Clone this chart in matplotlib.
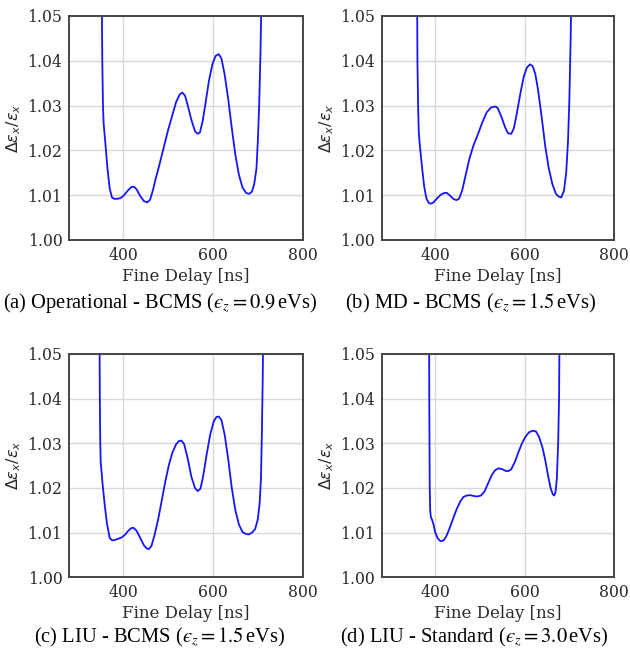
import matplotlib
matplotlib.use("Agg")
import matplotlib.pyplot as plt

# ---------------- data ----------------
delay_a = [349, 352, 353.5, 355, 356.5, 360, 365, 370, 375, 380, 388, 395, 402, 410, 418, 424,
           430, 438, 446, 454, 460, 466, 472, 480, 490, 500, 510, 518, 526, 532, 538, 544,
           552, 560, 566, 571, 577, 583, 591, 599, 606, 613, 619, 626, 634, 642, 650, 658,
           666, 674, 681, 687, 692, 697, 700, 703, 706, 709, 711]
value_a = [1.12, 1.06, 1.04, 1.03, 1.026, 1.022, 1.016, 1.0115, 1.0095, 1.0092, 1.0092, 1.0094,
           1.0100, 1.0110, 1.0118, 1.0119, 1.0113, 1.0098, 1.0087, 1.0084, 1.0090, 1.0110,
           1.0135, 1.0165, 1.0205, 1.0245, 1.0280, 1.0308, 1.0325, 1.0329, 1.0322, 1.0300,
           1.0268, 1.0243, 1.0237, 1.0240, 1.0265, 1.0302, 1.0355, 1.0393, 1.0411, 1.0415,
           1.0405, 1.0370, 1.0315, 1.0250, 1.0190, 1.0145, 1.0117, 1.0105, 1.0103, 1.0108,
           1.0125, 1.0160, 1.022, 1.030, 1.042, 1.06, 1.10]

delay_b = [357, 359, 360, 361.5, 363, 365, 370, 375, 380, 385, 390, 396, 404, 412, 420, 426,
           432, 440, 447, 453, 460, 468, 476, 485, 495, 505, 515, 525, 535, 540, 548, 556,
           563, 570, 576, 582, 590, 598, 605, 612, 618, 624, 630, 638, 646, 654, 662, 670,
           676, 682, 688, 693, 697, 700, 703, 705, 707]
value_b = [1.12, 1.06, 1.04, 1.03, 1.024, 1.0215, 1.0165, 1.012, 1.0093, 1.0083, 1.0081,
           1.0084, 1.0093, 1.0101, 1.0105, 1.0105, 1.0100, 1.0092, 1.0089, 1.0092, 1.0110,
           1.0145, 1.0180, 1.0210, 1.0235, 1.0262, 1.0285, 1.0296, 1.0298, 1.0294, 1.0275,
           1.0252, 1.0238, 1.0237, 1.0250, 1.0280, 1.0325, 1.0365, 1.0385, 1.0392, 1.0388,
           1.0370, 1.0335, 1.0275, 1.0210, 1.0160, 1.0125, 1.0103, 1.0097, 1.0095, 1.0110,
           1.0150, 1.022, 1.031, 1.045, 1.06, 1.10]

delay_c = [345, 347, 348, 349, 350, 354, 359, 364, 370, 375, 380, 388, 396, 404, 412, 418,
           423, 430, 438, 446, 452, 457, 463, 470, 478, 486, 494, 502, 510, 518, 524, 530,
           536, 544, 552, 560, 566, 572, 578, 586, 594, 602, 608, 613, 619, 626, 634, 642,
           650, 658, 666, 674, 680, 687, 694, 700, 704, 707, 709, 711, 712.5, 714]
value_c = [1.12, 1.06, 1.04, 1.03, 1.0258, 1.021, 1.0161, 1.0120, 1.0088, 1.0083, 1.0083,
           1.0086, 1.0089, 1.0095, 1.0105, 1.0110, 1.0111, 1.0104, 1.0088, 1.0072, 1.0065,
           1.0063, 1.0070, 1.0095, 1.0130, 1.0172, 1.0215, 1.0252, 1.0280, 1.0298, 1.0305,
           1.0306, 1.0298, 1.0265, 1.0225, 1.0200, 1.0193, 1.0198, 1.0225, 1.0275, 1.0320,
           1.0350, 1.0359, 1.0360, 1.0352, 1.0320, 1.0265, 1.0200, 1.0150, 1.0118, 1.0101,
           1.0097, 1.0096, 1.0100, 1.0108, 1.0130, 1.0165, 1.022, 1.032, 1.045, 1.06, 1.10]

delay_d = [384, 386, 386.5, 387, 387.5, 388.5, 390, 393, 396, 400, 405, 410, 415, 420, 426,
           432, 440, 448, 456, 463, 470, 478, 486, 494, 502, 510, 518, 526, 534, 542, 550,
           558, 564, 570, 578, 586, 594, 602, 610, 618, 625, 632, 640, 646, 652, 658, 663,
           666, 669, 672, 675, 677, 678.5, 680]
value_d = [1.12, 1.06, 1.04, 1.03, 1.02, 1.015, 1.0135, 1.0128, 1.0118, 1.0100, 1.0088,
           1.0082, 1.0081, 1.0084, 1.0095, 1.0110, 1.0132, 1.0153, 1.0170, 1.0180, 1.0183,
           1.0184, 1.0182, 1.0181, 1.0183, 1.0192, 1.0210, 1.0228, 1.0240, 1.0244, 1.0242,
           1.0238, 1.0238, 1.0242, 1.0258, 1.0280, 1.0300, 1.0315, 1.0325, 1.0328, 1.0327,
           1.0315, 1.0290, 1.0263, 1.0230, 1.0200, 1.0186, 1.0183, 1.0190, 1.022, 1.030,
           1.040, 1.06, 1.10]

captions = [r"(a) Operational - BCMS ($ϵ_z = 0.9\,$eVs)",
            r"(b) MD - BCMS ($ϵ_z = 1.5\,$eVs)",
            r"(c) LIU - BCMS ($ϵ_z = 1.5\,$eVs)",
            r"(d) LIU - Standard ($ϵ_z = 3.0\,$eVs)"]

x_ticks = [400, 600, 800]
y_ticks = [1.00, 1.01, 1.02, 1.03, 1.04, 1.05]
x_label = "Fine Delay [ns]"
y_label = r"$\Delta ε_x/ε_x$"

# ---------------- figure ----------------
plt.rcParams["mathtext.fontset"] = "dejavusans"
W, H = 630, 654
fig = plt.figure(figsize=(W / 100, H / 100), dpi=100)

series = [(delay_a, value_a), (delay_b, value_b), (delay_c, value_c), (delay_d, value_d)]
# axes boxes in pixels: left, top, right, bottom
boxes = [(69.3, 16.0, 302.7, 240.0),
         (381.7, 16.0, 614.0, 240.0),
         (69.3, 354.0, 302.7, 577.3),
         (381.7, 354.0, 614.0, 577.3)]
caption_pos = [(160, 303), (471, 303), (160, 637), (474, 637)]

tick_color = "#2a2a2a"
for (xs, ys), (l, t, r, b), cap, (cx, cy) in zip(series, boxes, captions, caption_pos):
    ax = fig.add_axes([l / W, 1 - b / H, (r - l) / W, (b - t) / H])
    ax.plot(xs, ys, color="#1515ff", lw=1.3)
    ax.set_xlim(280, 800)
    ax.set_ylim(1.00, 1.05)
    ax.set_xticks(x_ticks)
    ax.set_yticks(y_ticks)
    ax.set_yticklabels([f"{v:.2f}" for v in y_ticks])
    ax.grid(True, color="#d8d8d8", lw=1.0)
    ax.set_axisbelow(True)
    for s in ax.spines.values():
        s.set_color("#444444")
        s.set_linewidth(1.4)
    ax.tick_params(length=0, pad=5, labelsize=11.3, colors=tick_color)
    for lab in ax.get_xticklabels() + ax.get_yticklabels():
        lab.set_family("DejaVu Serif")
    ax.set_xlabel(x_label, fontsize=12, family="DejaVu Serif", color=tick_color, labelpad=3)
    ax.set_ylabel(y_label, fontsize=11.5, color=tick_color, labelpad=3)
    fig.text(cx / W, 1 - cy / H, cap, ha="center", va="center", fontsize=14.8,
             family="Liberation Serif", math_fontfamily="stix", color="black")

fig.savefig("out.png", dpi=100, facecolor="white")
